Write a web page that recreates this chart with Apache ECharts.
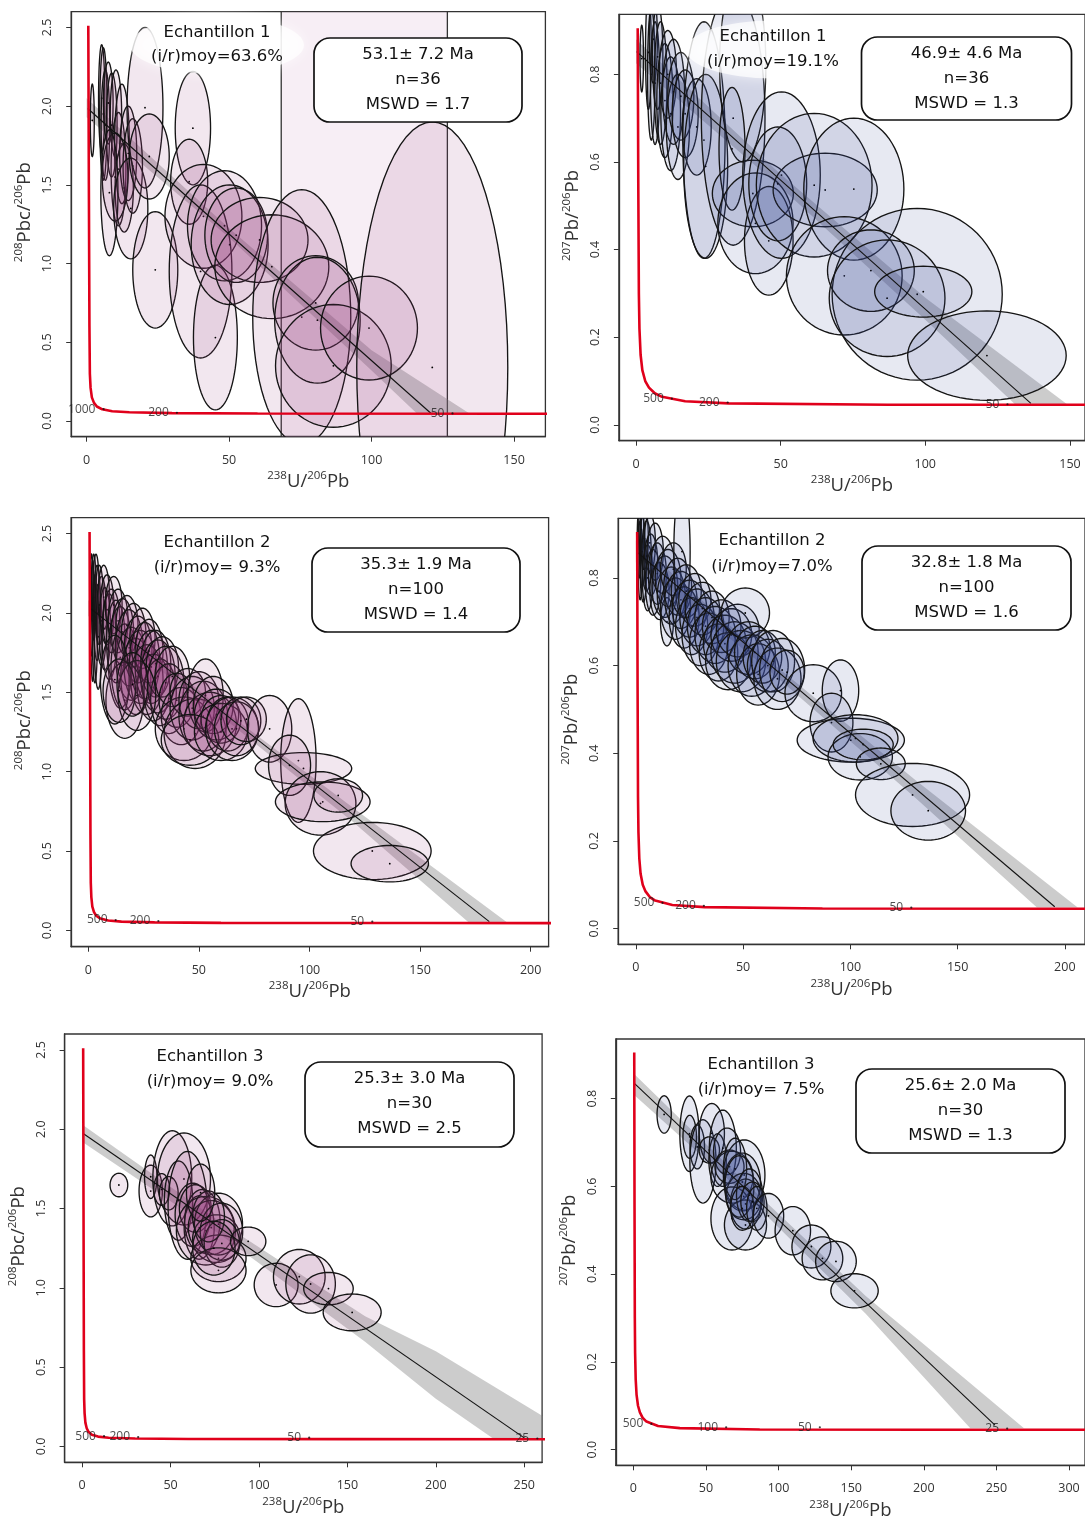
<!DOCTYPE html>
<html><head><meta charset="utf-8">
<script src="https://cdn.jsdelivr.net/npm/echarts@6/dist/echarts.min.js"></script>
<style>html,body{margin:0;padding:0;background:#fff}#c{width:1085px;height:1524px}</style>
</head><body><div id="c"></div><script>
// ---------------- DATA ----------------
const xTicks1 = [0, 50, 100, 150];
const xTicks2 = [0, 50, 100, 150];
const xTicks3 = [0, 50, 100, 150, 200];
const xTicks4 = [0, 50, 100, 150, 200];
const xTicks5 = [0, 50, 100, 150, 200, 250];
const xTicks6 = [0, 50, 100, 150, 200, 250, 300];
const yTicks208 = [0, 0.5, 1.0, 1.5, 2.0, 2.5];
const yTicks207 = [0, 0.2, 0.4, 0.6, 0.8];

// concordia curves (x = 238U/206Pb, y)
const concordia208 = [[0.6,2.51],[0.8,1.5],[1.0,0.6],[1.15,0.30],[1.4,0.21],[1.85,0.15],[2.6,0.115],[3.6,0.092],[5.5,0.074],[9,0.062],[15,0.055],[30,0.050],[60,0.047],[150,0.046],[300,0.045]];
const concordia207 = [[0.6,0.905],[0.8,0.55],[1.0,0.30],[1.2,0.22],[1.6,0.16],[2.2,0.125],[3.2,0.10],[4.5,0.085],[6.5,0.072],[9,0.064],[17,0.054],[32,0.049],[87,0.046],[200,0.0455],[350,0.0455]];

// age marks on concordia [x, y, label]
const ages1 = [[5.96,0.075,'1000'],[31.7,0.052,'200'],[128.4,0.048,'50']];
const ages2 = [[12.4,0.060,'500'],[31.7,0.051,'200'],[128.4,0.047,'50']];
const ages3 = [[12.4,0.065,'500'],[31.7,0.059,'200'],[128.4,0.055,'50']];
const ages4 = [[12.4,0.059,'500'],[31.7,0.052,'200'],[128.4,0.048,'50']];
const ages5 = [[12.4,0.065,'500'],[31.7,0.059,'200'],[128.4,0.055,'50'],[257.4,0.050,'25']];
const ages6 = [[12.4,0.0585,'500'],[63.9,0.051,'100'],[128.4,0.051,'50'],[257.4,0.048,'25']];

// regression lines
const reg1 = [[0.4,1.985],[121,0.046]];
const reg2 = [[0.2,0.852],[136.5,0.049]];
const reg3 = [[0.8,2.03],[181.3,0.055]];
const reg4 = [[0.3,0.86],[195.3,0.05]];
const reg5 = [[0.4,1.974],[251,0.046]];
const reg6 = [[0.7,0.835],[249,0.056]];

// confidence envelopes (upper edge then lower edge)
const band1 = [[0,2.05],[50,1.225],[100,0.45],[134.5,0.046],[116,0.046],[100,0.32],[50,1.165],[0,1.93]];
const band2 = [[0,0.88],[50,0.572],[100,0.29],[149,0.047],[131,0.047],[100,0.24],[50,0.542],[0,0.825]];
const band3 = [[0,2.08],[60,1.40],[120,0.77],[189.4,0.05],[172,0.05],[120,0.68],[60,1.35],[0,1.98]];
const band4 = [[0,0.885],[60,0.62],[130,0.34],[206,0.048],[187,0.048],[130,0.30],[60,0.598],[0,0.835]];
const band5 = [[0,2.03],[80,1.40],[160,0.82],[200,0.60],[282,0.045],[233,0.045],[200,0.30],[160,0.66],[80,1.32],[0,1.92]];
const band6 = [[0,0.858],[80,0.60],[160,0.35],[200,0.24],[269,0.049],[232,0.049],[200,0.165],[160,0.31],[80,0.572],[0,0.81]];

// shaded window of panel 1 (x range)
const window1 = [68.3, 126.6];

// error ellipses [x, y, semi-axis x, semi-axis y]
const ell1 = [
[2.0,1.91,0.7,0.23],[5.3,2.05,1.1,0.34],[5.9,1.95,1.3,0.42],[6.6,1.88,1.5,0.35],[7.6,2.02,1.7,0.26],
[8.8,1.88,1.9,0.33],[10.3,1.95,2.0,0.28],[11.2,1.60,2.6,0.36],[12.4,1.76,2.6,0.38],[13.2,1.48,3.2,0.28],
[14.6,1.70,3.0,0.30],[16.2,1.62,3.4,0.30],[10.0,1.55,4.5,0.28],[8.0,1.45,3.0,0.40],[15.5,1.35,6.0,0.32],
[20.5,1.99,6.3,0.51],[22.0,1.68,7.0,0.27],[24.1,0.96,7.9,0.37],[37.3,1.86,6.2,0.36],[36.0,1.52,6.5,0.27],
[41.0,1.30,13.5,0.33],[40.0,0.95,11.0,0.55],[45.2,0.53,7.7,0.46],[48.4,1.24,13.0,0.35],[50.2,1.12,13.5,0.38],
[52.5,1.18,11.0,0.30],[60.7,1.15,17.0,0.27],[65.0,0.98,20.0,0.33],[75.5,0.66,17.2,0.81],[80.4,0.75,15.0,0.30],
[81.0,0.64,15.0,0.40],[86.6,0.35,20.3,0.39],[99.1,0.59,17.0,0.33],[121.3,0.34,26.5,1.56]
];
const ell2 = [
[2.0,0.836,0.6,0.076],[4.3,0.85,1.0,0.13],[5.3,0.80,1.3,0.15],[6.0,0.88,1.4,0.10],[6.6,0.78,1.6,0.14],
[7.5,0.84,1.8,0.12],[8.5,0.78,2.2,0.14],[10.0,0.74,2.8,0.13],[11.0,0.80,3.0,0.10],[12.0,0.71,3.4,0.13],
[13.0,0.76,3.8,0.12],[14.5,0.68,4.0,0.12],[15.5,0.75,4.5,0.10],[17.0,0.71,4.5,0.10],[21.0,0.68,5.0,0.11],
[23.5,0.65,7.3,0.27],[24.1,0.59,7.6,0.21],[33.6,0.70,11.0,0.29],[36.9,0.82,8.0,0.22],[33.2,0.63,4.5,0.14],
[40.4,0.528,14.0,0.076],[41.3,0.46,13.0,0.115],[45.9,0.42,8.4,0.124],[50.3,0.57,13.4,0.19],[49.0,0.55,10.0,0.13],
[65.4,0.536,18.0,0.084],[61.6,0.547,20.0,0.164],[75.3,0.538,17.3,0.162],[72.0,0.34,20.0,0.135],[97.2,0.298,29.4,0.196],
[81.2,0.352,15.0,0.093],[86.8,0.289,20.0,0.133],[99.3,0.304,16.8,0.058],[121.3,0.158,27.4,0.102]
];
const ell3 = [
[1.5,2.05,0.8,0.32],[2.0,1.95,0.9,0.38],[2.5,2.10,1.1,0.27],[3.0,1.90,1.2,0.34],[3.5,2.15,1.4,0.22],
[4.0,2.00,1.6,0.30],[4.5,1.85,1.8,0.33],[5.0,2.05,1.9,0.25],[6.0,1.95,2.3,0.28],[7.0,2.10,2.6,0.20],
[7.5,1.90,2.6,0.26],[8.5,2.02,3.2,0.22],[9.5,1.85,3.3,0.27],[10.5,1.95,3.8,0.20],[11.5,2.05,3.8,0.18],
[12.5,1.82,4.2,0.26],[13.5,1.95,4.5,0.20],[14.5,1.72,5.5,0.32],[15.5,1.88,5.0,0.21],[16.5,1.66,6.2,0.27],
[17.5,1.92,5.0,0.19],[18.5,1.78,6.3,0.24],[19.5,1.68,6.8,0.23],[20.5,1.86,5.6,0.20],[21.5,1.60,6.8,0.24],
[22.5,1.77,6.3,0.21],[23.5,1.66,7.3,0.23],[24.5,1.84,5.7,0.19],[25.5,1.70,6.8,0.24],[26.5,1.58,7.3,0.22],
[27.5,1.76,6.3,0.20],[28.5,1.66,7.3,0.23],[29.5,1.53,7.3,0.21],[30.5,1.68,6.8,0.21],[31.5,1.60,7.8,0.23],
[32.5,1.50,7.3,0.21],[33.5,1.66,7.3,0.19],[35.0,1.56,8.3,0.23],[36.5,1.46,8.3,0.22],[38.0,1.60,7.8,0.19],
[16.5,1.45,8.5,0.24],[12.0,1.58,6.5,0.28],[22.0,1.48,8.5,0.22],[14.0,1.51,7.3,0.20],[20.0,1.55,7.0,0.20],
[40.0,1.45,8.0,0.17],[42.0,1.35,9.0,0.18],[43.3,1.27,13.0,0.20],[45.0,1.50,8.0,0.15],[47.0,1.40,10.0,0.20],
[48.3,1.24,14.0,0.22],[50.0,1.45,9.0,0.18],[52.0,1.35,11.0,0.22],[53.0,1.48,8.0,0.23],[55.0,1.30,12.0,0.20],
[56.5,1.42,9.0,0.18],[58.0,1.36,10.0,0.16],[60.0,1.33,9.0,0.15],[46.0,1.20,13.0,0.16],[60.0,1.25,12.0,0.18],
[63.0,1.30,9.5,0.17],[65.0,1.27,12.0,0.20],[67.0,1.27,10.0,0.17],[69.0,1.32,9.0,0.15],[71.5,1.33,9.0,0.14],
[82.0,1.27,10.0,0.21],[95.0,1.07,8.0,0.39],[97.3,1.02,21.8,0.10],[91.0,1.04,9.5,0.19],[105.0,0.80,16.0,0.20],
[106.0,0.81,21.4,0.125],[113.0,0.85,11.0,0.105],[128.4,0.50,26.6,0.18],[136.3,0.42,17.5,0.115]
];
const ell4 = [
[1.5,0.88,0.9,0.08],[2.0,0.84,1.0,0.09],[2.5,0.91,1.2,0.07],[3.0,0.86,1.3,0.08],[3.5,0.82,1.5,0.075],
[4.0,0.89,1.8,0.07],[5.0,0.85,2.2,0.08],[5.5,0.80,2.5,0.075],[6.5,0.88,2.6,0.065],[7.0,0.83,3.2,0.07],
[8.0,0.79,3.6,0.075],[9.0,0.86,3.8,0.065],[10.0,0.81,4.2,0.07],[11.0,0.77,4.5,0.065],
[12.5,0.83,5.5,0.065],[13.5,0.78,6.0,0.07],[14.5,0.70,3.0,0.055],[15.0,0.80,6.0,0.065],[16.5,0.76,6.5,0.065],
[17.5,0.82,6.0,0.06],[18.5,0.73,7.0,0.07],[19.5,0.78,6.5,0.065],[21.0,0.75,7.5,0.065],[21.5,0.86,3.8,0.15],
[22.5,0.71,7.0,0.07],[23.5,0.77,7.0,0.06],[25.0,0.73,8.0,0.065],[26.0,0.69,7.5,0.065],[27.5,0.75,7.5,0.06],
[28.5,0.71,8.0,0.065],[30.0,0.67,8.5,0.07],[31.0,0.73,8.0,0.06],[32.5,0.69,8.5,0.065],[34.0,0.65,9.0,0.07],
[35.5,0.71,8.0,0.06],[37.0,0.67,9.5,0.065],[38.5,0.63,9.0,0.065],[40.0,0.69,9.0,0.06],
[41.5,0.65,10.0,0.065],[43.0,0.61,10.5,0.065],[44.5,0.67,9.5,0.06],[46.0,0.63,11.0,0.07],[47.5,0.68,10.0,0.06],
[49.0,0.61,11.5,0.07],[51.0,0.72,11.3,0.057],[52.5,0.64,10.0,0.06],[54.0,0.60,11.0,0.07],[55.5,0.63,9.5,0.06],
[57.0,0.58,10.0,0.07],[59.0,0.62,9.0,0.06],[61.5,0.60,9.5,0.06],[64.0,0.61,10.0,0.07],[66.0,0.57,11.0,0.07],
[68.2,0.59,10.5,0.072],[70.5,0.585,8.0,0.05],
[82.7,0.537,13.2,0.065],[95.4,0.543,8.5,0.07],[91.2,0.47,10.0,0.067],[100.2,0.43,25.0,0.05],[102.4,0.434,19.8,0.054],
[104.6,0.392,15.0,0.053],[106.0,0.42,14.0,0.035],[114.2,0.376,11.4,0.036],[129.0,0.305,26.6,0.072],[136.3,0.269,17.4,0.067]
];
const ell5 = [
[20.8,1.648,5.0,0.074],[38.8,1.61,6.6,0.163],[38.8,1.70,3.5,0.137],[51.0,1.69,11.0,0.30],[57.6,1.686,15.0,0.29],
[45.0,1.62,4.5,0.10],[49.0,1.596,5.3,0.105],[54.5,1.55,8.0,0.25],[59.6,1.52,11.0,0.34],[62.6,1.46,10.0,0.20],
[64.0,1.50,9.0,0.15],[66.2,1.38,8.5,0.20],[68.0,1.42,10.0,0.20],[70.0,1.36,16.7,0.216],[73.0,1.38,13.0,0.17],
[76.0,1.31,13.5,0.15],[77.1,1.186,15.6,0.147],[77.1,1.402,13.6,0.195],[78.8,1.354,12.0,0.18],[79.0,1.28,10.0,0.15],
[77.1,1.11,15.6,0.142],[71.5,1.45,9.0,0.16],[74.5,1.25,12.0,0.17],[67.0,1.60,8.0,0.18],
[93.9,1.293,10.0,0.09],[109.7,1.018,12.4,0.137],[122.8,1.07,14.6,0.172],[129.2,1.024,14.0,0.184],
[139.3,0.995,14.0,0.102],[152.7,0.845,16.4,0.116]
];
const ell6 = [
[21.2,0.764,4.9,0.0426],[38.6,0.72,6.6,0.086],[38.8,0.713,4.65,0.049],[44.0,0.69,5.0,0.05],[47.9,0.657,9.0,0.095],
[54.0,0.721,8.7,0.068],[52.3,0.683,7.0,0.030],[58.0,0.66,6.0,0.06],[61.6,0.687,9.3,0.087],[64.5,0.68,9.3,0.053],
[67.9,0.621,14.5,0.059],[66.2,0.645,10.0,0.038],[76.3,0.626,14.3,0.080],[75.0,0.610,12.5,0.066],[67.9,0.527,14.5,0.072],
[77.2,0.512,14.5,0.057],[76.0,0.577,12.2,0.053],[77.3,0.560,10.5,0.057],[70.0,0.640,8.0,0.070],[73.0,0.600,10.0,0.070],
[80.0,0.580,9.0,0.060],[75.0,0.550,8.0,0.050],[82.0,0.565,8.0,0.045],[85.0,0.55,7.0,0.05],[93.0,0.533,10.5,0.051],
[109.8,0.499,12.2,0.055],[122.6,0.463,13.4,0.049],[130.2,0.436,14.0,0.049],[139.5,0.429,14.0,0.046],[152.3,0.362,16.3,0.039]
];

// annotation texts
const titles = [
  ['Echantillon 1','(i/r)moy=63.6%'],['Echantillon 1','(i/r)moy=19.1%'],
  ['Echantillon 2','(i/r)moy= 9.3%'],['Echantillon 2','(i/r)moy=7.0%'],
  ['Echantillon 3','(i/r)moy= 9.0%'],['Echantillon 3','(i/r)moy= 7.5%']
];
const boxes = [
  ['53.1\u00b1 7.2 Ma','n=36','MSWD = 1.7'],['46.9\u00b1 4.6 Ma','n=36','MSWD = 1.3'],
  ['35.3\u00b1 1.9 Ma','n=100','MSWD = 1.4'],['32.8\u00b1 1.8 Ma','n=100','MSWD = 1.6'],
  ['25.3\u00b1 3.0 Ma','n=30','MSWD = 2.5'],['25.6\u00b1 2.0 Ma','n=30','MSWD = 1.3']
];

// ---------------- LAYOUT ----------------
const grids = [
  {left:71.2, top:11.7, width:474.2, height:425},
  {left:618.9, top:14.3, width:472, height:426.4},
  {left:71.1, top:517.7, width:477.5, height:429},
  {left:618.2, top:518.3, width:478, height:426},
  {left:64.6, top:1034, width:477.5, height:428.3},
  {left:615.8, top:1039, width:474, height:426.3}
];
const xRanges = [[-5.4,161.0],[-5.9,155.2],[-7.75,208.1],[-8.24,209.4],[-9.9,260.1],[-12.1,311.0]];
const yRanges = [[-0.1,2.6],[-0.0362,0.937],[-0.103,2.6],[-0.0357,0.936],[-0.1,2.6],[-0.0357,0.936]];
const xTicksAll = [xTicks1,xTicks2,xTicks3,xTicks4,xTicks5,xTicks6];
const is208 = [true,false,true,false,true,false];
const concAll = is208.map(v => v ? concordia208 : concordia207);
const agesAll = [ages1,ages2,ages3,ages4,ages5,ages6];
const regAll = [reg1,reg2,reg3,reg4,reg5,reg6];
const bandAll = [band1,band2,band3,band4,band5,band6];
const ellAll = [ell1,ell2,ell3,ell4,ell5,ell6];
const titlePos = [[217,33,57],[773,37,62],[217,543,568],[772,541,567],[210,1057,1082],[761,1065,1090]];
const boxPos = [[314,38,208,84],[861.5,37,210,83],[312,548,208,84],[862,546,209,84],[305,1062,209,85],[856,1069,209,84]];

const PINK = 'rgba(150,60,120,0.12)';
const BLUE = 'rgba(55,75,150,0.12)';
const SANS = '"Open Sans", "DejaVu Sans", sans-serif';
const HAND = '"DejaVu Sans", sans-serif';

const richName = {
  n: {fontSize:18.5, fontFamily:SANS, color:'#333', lineHeight:24},
  s: {fontSize:11.5, fontFamily:SANS, color:'#333', lineHeight:13, verticalAlign:'top'}
};

function ellipseRender(fill) {
  return function(params, api) {
    const c = api.coord([api.value(0), api.value(1)]);
    const s = api.size([api.value(2), api.value(3)]);
    const pts = [];
    for (let i = 0; i < 72; i++) {
      const t = i / 72 * Math.PI * 2;
      pts.push([c[0] + s[0] * Math.cos(t), c[1] + s[1] * Math.sin(t)]);
    }
    return {type:'group', children:[
      {type:'polygon', shape:{points:pts}, style:{fill:fill, stroke:'#151515', lineWidth:1.35}},
      {type:'circle', shape:{cx:c[0], cy:c[1], r:0.9}, style:{fill:'#000'}}
    ]};
  };
}
function polyRender(points, style) {
  return function(params, api) {
    if (params.dataIndex !== 0) return null;
    return {type:'polygon', shape:{points:points.map(p => api.coord(p))}, style:style};
  };
}

const grid = [], xAxis = [], yAxis = [], series = [], graphic = [];
for (let i = 0; i < 6; i++) {
  grid.push(Object.assign({show:true, borderColor:'#333', borderWidth:1.3, backgroundColor:'transparent', containLabel:false}, grids[i]));
  xAxis.push({
    type:'value', gridIndex:i, min:xRanges[i][0], max:xRanges[i][1],
    axisLine:{show:true, onZero:false, lineStyle:{color:'#333', width:1.3}},
    axisTick:{show:true, customValues:xTicksAll[i], length:5, lineStyle:{color:'#333'}},
    axisLabel:{customValues:xTicksAll[i], margin:17, color:'#333', fontSize:12.5, fontFamily:SANS},
    splitLine:{show:false},
    name:'{s|238}{n|U/}{s|206}{n|Pb}', nameLocation:'middle', nameGap:33,
    nameTextStyle:{rich:richName}
  });
  const yt = is208[i] ? yTicks208 : yTicks207;
  yAxis.push({
    type:'value', gridIndex:i, min:yRanges[i][0], max:yRanges[i][1],
    axisLine:{show:true, onZero:false, lineStyle:{color:'#333', width:1.3}},
    axisTick:{show:true, customValues:yt, length:5, lineStyle:{color:'#333'}},
    axisLabel:{customValues:yt, rotate:90, margin:17, color:'#333', fontSize:12.5, fontFamily:SANS,
      formatter: v => Number(v).toFixed(1)},
    splitLine:{show:false},
    name: is208[i] ? '{s|208}{n|Pbc/}{s|206}{n|Pb}' : '{s|207}{n|Pb/}{s|206}{n|Pb}',
    nameLocation:'middle', nameRotate:90, nameGap:34,
    nameTextStyle:{rich:richName, padding:[0,0,0,24]}
  });

  if (i === 0) {
    series.push({
      type:'custom', xAxisIndex:0, yAxisIndex:0, z:1, silent:true, data:[0],
      renderItem:(params, api) => {
        const cs = params.coordSys;
        const x0 = api.coord([window1[0], 0])[0], x1 = api.coord([window1[1], 0])[0];
        return {type:'group', children:[
          {type:'rect', shape:{x:x0, y:cs.y, width:x1 - x0, height:cs.height}, style:{fill:'rgba(200,140,185,0.15)'}},
          {type:'line', shape:{x1:x0, y1:cs.y, x2:x0, y2:cs.y + cs.height}, style:{stroke:'#333', lineWidth:1.3}},
          {type:'line', shape:{x1:x1, y1:cs.y, x2:x1, y2:cs.y + cs.height}, style:{stroke:'#333', lineWidth:1.3}}
        ]};
      }
    });
  }
  // envelope
  series.push({
    type:'custom', xAxisIndex:i, yAxisIndex:i, z:2, silent:true, clip:true, data:[0],
    renderItem: polyRender(bandAll[i], {fill:'rgba(120,120,120,0.38)'})
  });
  // ellipses
  series.push({
    type:'custom', xAxisIndex:i, yAxisIndex:i, z:3, silent:true, clip:true,
    dimensions:['x','y','a','b'], encode:{x:0, y:1},
    data: ellAll[i],
    renderItem: ellipseRender(is208[i] ? PINK : BLUE)
  });
  // regression line
  series.push({
    type:'line', xAxisIndex:i, yAxisIndex:i, z:4, silent:true, symbol:'none',
    data: regAll[i], lineStyle:{color:'#111', width:1.1}
  });
  // concordia
  series.push({
    type:'line', xAxisIndex:i, yAxisIndex:i, z:5, silent:true, symbol:'none', clip:true,
    data: concAll[i], lineStyle:{color:'#e0001b', width:2.6}
  });
  // age marks
  series.push({
    type:'scatter', xAxisIndex:i, yAxisIndex:i, z:6, silent:true, symbolSize:2.2,
    itemStyle:{color:'#111'},
    data: agesAll[i].map(a => ({value:[a[0], a[1]], name:a[2]})),
    label:{show:true, position:'left', distance:7, formatter:'{b}', fontSize:12, color:'#222', fontFamily:SANS}
  });

  // title glow (panels 1,2)
  if (i < 2) {
    graphic.push({type:'circle', z:90, x:titlePos[i][0], y:(titlePos[i][1] + titlePos[i][2]) / 2,
      scaleX:3.0, scaleY:1, shape:{cx:0, cy:0, r:29},
      style:{fill:'rgba(255,255,255,0.72)', shadowBlur:14, shadowColor:'rgba(255,255,255,0.9)'}});
  }
  graphic.push({type:'text', z:100, x:titlePos[i][0], y:titlePos[i][1],
    style:{text:titles[i][0], fontSize:16.5, fontFamily:HAND, fill:'#111', align:'center', verticalAlign:'middle'}});
  graphic.push({type:'text', z:100, x:titlePos[i][0], y:titlePos[i][2],
    style:{text:titles[i][1], fontSize:16.5, fontFamily:HAND, fill:'#111', align:'center', verticalAlign:'middle'}});
  const b = boxPos[i];
  graphic.push({type:'rect', z:100, shape:{x:b[0], y:b[1], width:b[2], height:b[3], r:16},
    style:{fill:'#fff', stroke:'#111', lineWidth:1.7}});
  for (let k = 0; k < 3; k++) {
    graphic.push({type:'text', z:101, x:b[0] + b[2] / 2, y:b[1] + 17 + k * 25,
      style:{text:boxes[i][k], fontSize:16.5, fontFamily:HAND, fill:'#111', align:'center', verticalAlign:'middle'}});
  }
}

const chart = echarts.init(document.getElementById('c'), null, {renderer:'canvas'});
chart.setOption({animation:false, backgroundColor:'#fff', grid, xAxis, yAxis, series, graphic});
</script></body></html>
